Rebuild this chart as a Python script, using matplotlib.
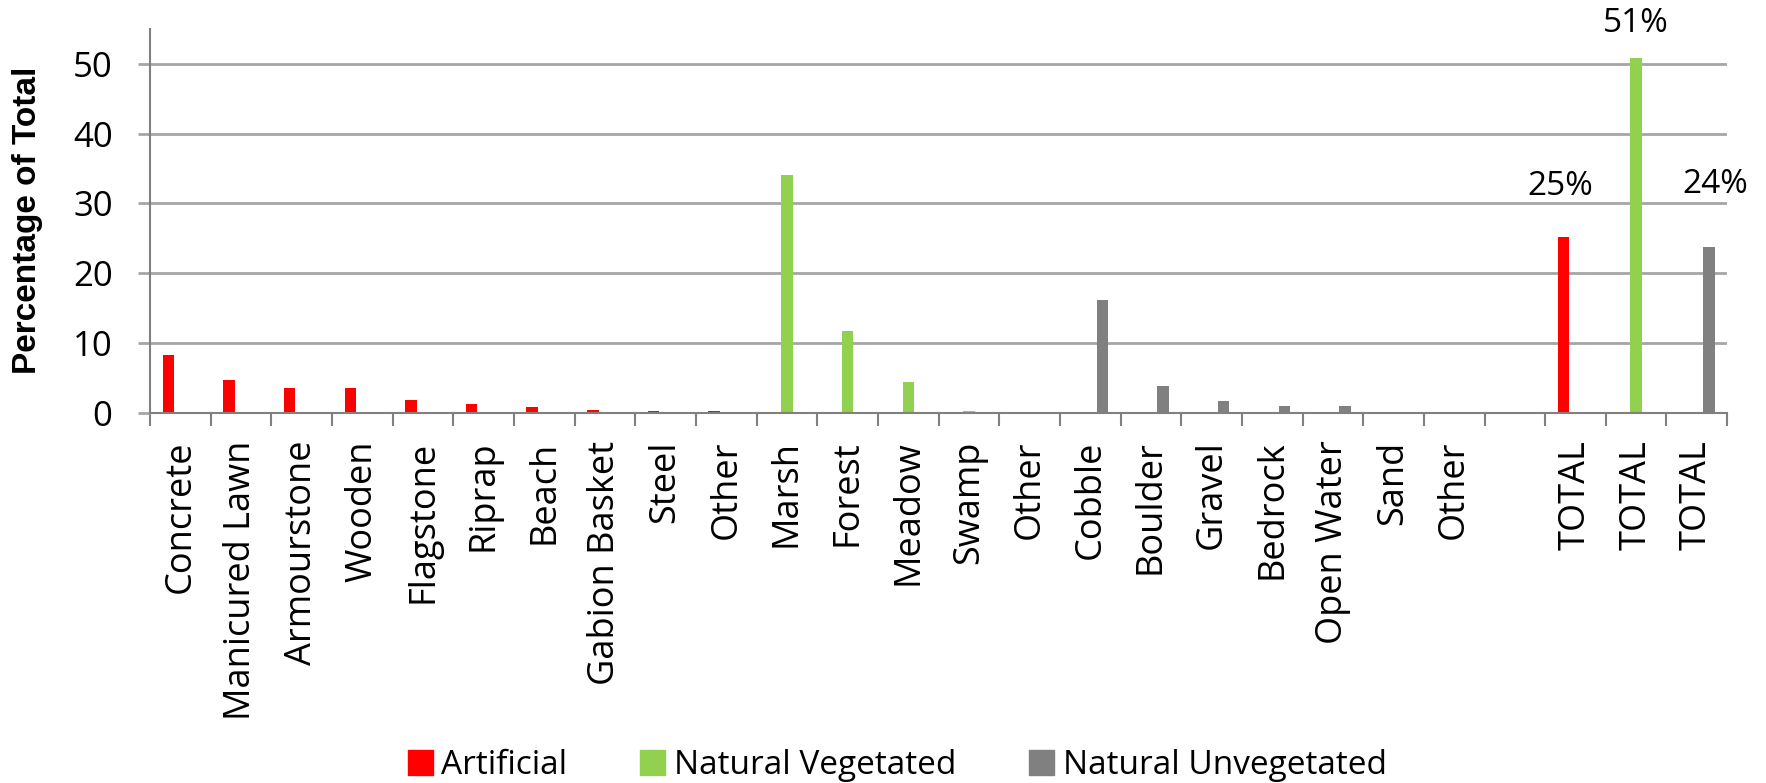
import numpy as np
import matplotlib.pyplot as plt
from matplotlib.patches import Patch

# categories along the x axis (one blank slot before the totals)
categories = ['Concrete', 'Manicured Lawn', 'Armourstone', 'Wooden', 'Flagstone',
              'Riprap', 'Beach', 'Gabion Basket', 'Steel', 'Other',
              'Marsh', 'Forest', 'Meadow', 'Swamp', 'Other',
              'Cobble', 'Boulder', 'Gravel', 'Bedrock', 'Open Water', 'Sand', 'Other',
              '', 'TOTAL', 'TOTAL', 'TOTAL']

artificial = [8.2, 4.7, 3.6, 3.5, 1.8, 1.3, 0.8, 0.4, 0.3, 0.3,
              0, 0, 0, 0, 0,
              0, 0, 0, 0, 0, 0, 0,
              0, 25.2, 0, 0]
vegetated = [0, 0, 0, 0, 0, 0, 0, 0, 0, 0,
             34.1, 11.7, 4.4, 0.2, 0,
             0, 0, 0, 0, 0, 0, 0,
             0, 0, 50.8, 0]
unvegetated = [0, 0, 0, 0, 0, 0, 0, 0, 0, 0,
               0, 0, 0, 0, 0,
               16.2, 3.8, 1.6, 0.9, 0.9, 0, 0,
               0, 0, 0, 23.7]

total_labels = ['25%', '51%', '24%']
label_pos = [(22.75, 32.4), (24.0, 55.8), (25.3, 32.7)]

red = '#ff0000'
green = '#92d050'
gray = '#808080'

plt.rcParams['font.family'] = ['Open Sans', 'DejaVu Sans']

fig = plt.figure(figsize=(17.66, 7.83), dpi=100)
ax = fig.add_axes([0.085, 0.473, 0.893, 0.49])

x = np.arange(len(categories))
w = 0.19
ax.bar(x - 0.2, artificial, w, color=red)
ax.bar(x, vegetated, w, color=green)
ax.bar(x + 0.2, unvegetated, w, color=gray)

ax.set_xlim(-0.5, len(categories) - 0.5)
ax.set_ylim(0, 55)
ax.set_yticks([0, 10, 20, 30, 40, 50])
ax.yaxis.grid(True, color='#a6a6a6', linewidth=2)
ax.set_axisbelow(True)

ax.set_xticks(x)
ax.set_xticklabels(categories, rotation=90, fontsize=26)
ax.tick_params(axis='x', length=0, pad=20)
ax.set_xticks(np.arange(-0.5, len(categories)), minor=True)
ax.tick_params(axis='x', which='minor', length=9, width=1.5, color='#808080')
ax.tick_params(axis='y', length=9, width=2, color='#a6a6a6', labelsize=25, pad=18)

for s in ['top', 'right']:
    ax.spines[s].set_visible(False)
for s in ['left', 'bottom']:
    ax.spines[s].set_color('#808080')
    ax.spines[s].set_linewidth(1.5)

ax.set_ylabel('Percentage of Total', fontsize=24, fontweight='bold',
              family='Liberation Sans')
ax.yaxis.set_label_coords(-0.068, 0.5)

for t, (px, py) in zip(total_labels, label_pos):
    ax.text(px, py, t, ha='center', va='center', fontsize=24)

handles = [Patch(color=red), Patch(color=green), Patch(color=gray)]
fig.legend(handles, ['Artificial', 'Natural Vegetated', 'Natural Unvegetated'],
           loc='center', bbox_to_anchor=(0.508, 0.022), ncol=3, frameon=False,
           fontsize=24, handlelength=0.75, handleheight=0.75, handletextpad=0.25,
           columnspacing=2.2)

fig.savefig('out.png', dpi=100)
